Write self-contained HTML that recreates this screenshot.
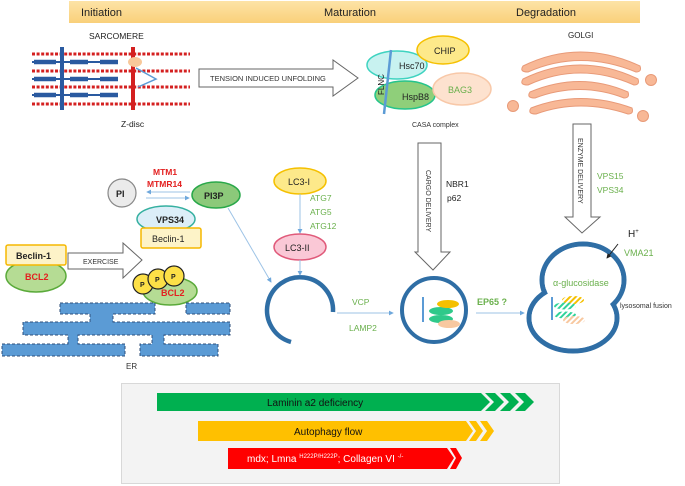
<!DOCTYPE html>
<html><head><meta charset="utf-8"><style>
html,body{margin:0;padding:0;background:#fff}
svg{display:block;font-family:"Liberation Sans",sans-serif}
</style></head><body>
<svg width="685" height="486" viewBox="0 0 685 486" xmlns="http://www.w3.org/2000/svg">
<defs>
<linearGradient id="hd" x1="0" y1="0" x2="0" y2="1"><stop offset="0" stop-color="#fde3a6"/><stop offset="1" stop-color="#f9d07a"/></linearGradient>
<marker id="ah" viewBox="0 0 6 6" refX="5" refY="3" markerWidth="5" markerHeight="5" orient="auto"><path d="M0,0 L6,3 L0,6z" fill="#6fa8dc"/></marker>
<marker id="ak" viewBox="0 0 6 6" refX="5" refY="3" markerWidth="5" markerHeight="5" orient="auto"><path d="M0,0 L6,3 L0,6z" fill="#222"/></marker>
<pattern id="hy" width="4" height="4" patternUnits="userSpaceOnUse" patternTransform="rotate(45)"><rect width="2" height="4" fill="#f5c000"/></pattern>
<pattern id="hg" width="4" height="4" patternUnits="userSpaceOnUse" patternTransform="rotate(45)"><rect width="2" height="4" fill="#2fd39a"/></pattern>
<pattern id="hp" width="4" height="4" patternUnits="userSpaceOnUse" patternTransform="rotate(45)"><rect width="2" height="4" fill="#f8c8a0"/></pattern>
</defs>
<rect x="69" y="1" width="571" height="22" fill="url(#hd)"/>
<text x="81" y="16" font-size="11" fill="#222">Initiation</text>
<text x="324" y="16" font-size="11" fill="#222">Maturation</text>
<text x="516" y="16" font-size="11" fill="#222">Degradation</text>

<text x="89" y="39" font-size="8.5" fill="#222">SARCOMERE</text>
<g stroke="#d42020" stroke-width="3" stroke-dasharray="3,1.6">
<line x1="32" y1="54" x2="190" y2="54"/><line x1="32" y1="71" x2="190" y2="71"/>
<line x1="32" y1="87" x2="190" y2="87"/><line x1="32" y1="104" x2="190" y2="104"/>
</g>
<g stroke="#2a5aa0" stroke-width="2">
<line x1="32" y1="62" x2="118" y2="62"/><line x1="32" y1="79" x2="118" y2="79"/><line x1="32" y1="95" x2="118" y2="95"/>
</g>
<g stroke="#2a5aa0" stroke-width="4.5">
<line x1="34" y1="62" x2="56" y2="62"/><line x1="70" y1="62" x2="88" y2="62"/><line x1="100" y1="62" x2="118" y2="62"/>
<line x1="34" y1="79" x2="56" y2="79"/><line x1="70" y1="79" x2="88" y2="79"/><line x1="100" y1="79" x2="118" y2="79"/>
<line x1="34" y1="95" x2="56" y2="95"/><line x1="70" y1="95" x2="88" y2="95"/><line x1="100" y1="95" x2="118" y2="95"/>
</g>
<line x1="62" y1="47" x2="62" y2="110" stroke="#2a5aa0" stroke-width="4"/>
<line x1="133" y1="47" x2="133" y2="110" stroke="#d42020" stroke-width="4"/>
<polyline points="136,68 156,79 138,87" fill="none" stroke="#5b9bd5" stroke-width="1.5"/>
<ellipse cx="135" cy="62" rx="7" ry="5" fill="#f8c89a"/>
<text x="121" y="127" font-size="8.5" fill="#222">Z-disc</text>
<path d="M199,69 H333 V60 L358,78 L333,96 V87 H199 Z" fill="#fff" stroke="#666" stroke-width="1"/>
<text x="210" y="81" font-size="7.5" fill="#333">TENSION  INDUCED UNFOLDING</text>

<ellipse cx="397" cy="65" rx="30" ry="14" fill="#c8f2f0" stroke="#3fd3c0" stroke-width="1.5"/>
<ellipse cx="443" cy="50" rx="26" ry="14" fill="#fde98a" stroke="#f5c000" stroke-width="1.5"/>
<ellipse cx="405" cy="95" rx="30" ry="14" fill="#8fcf7a" stroke="#25c48c" stroke-width="1.5"/>
<ellipse cx="462" cy="89" rx="29" ry="16" fill="#fde2cf" stroke="#f8c8a8" stroke-width="1.5"/>
<line x1="391" y1="50" x2="384" y2="114" stroke="#5b9bd5" stroke-width="2.5"/>
<text x="434" y="54" font-size="9" fill="#222">CHIP</text>
<text x="399" y="69" font-size="9" fill="#222">Hsc70</text>
<text x="402" y="100" font-size="9" fill="#222">HspB8</text>
<text x="448" y="93" font-size="9" fill="#6ab04c">BAG3</text>
<text transform="translate(384,95) rotate(-90)" font-size="8" fill="#222">FLNC</text>
<text x="412" y="127" font-size="7" fill="#333">CASA complex</text>

<text x="568" y="38" font-size="8" fill="#222">GOLGI</text>
<g fill="#f8b896" stroke="#e89a78" stroke-width="1">
<path d="M523,66 Q580,38 640,66 Q642,72 636,72 Q580,49 528,72 Q519,72 523,66Z"/>
<path d="M523,79 Q580,51 638,79 Q640,85 634,85 Q580,61 528,85 Q519,85 523,79Z"/>
<path d="M530,92 Q580,71 628,92 Q630,98 624,98 Q580,81 535,98 Q526,98 530,92Z"/>
<path d="M531,108 Q580,89 632,108 Q634,114 628,114 Q580,98 536,114 Q527,114 531,108Z"/>
<circle cx="651" cy="80" r="5.5"/><circle cx="513" cy="106" r="5.5"/><circle cx="643" cy="116" r="5.5"/>
</g>

<path d="M418,143 H441 V252 H450 L433,270 L415,252 H418 Z" fill="#fff" stroke="#666"/>
<text transform="translate(426,170) rotate(90)" font-size="7" fill="#333">CARGO DELIVERY</text>
<path d="M573,124 H591 V217 H600 L582,233 L565,217 H573 Z" fill="#fff" stroke="#666"/>
<text transform="translate(578,138) rotate(90)" font-size="7" fill="#333">ENZYME DELIVERY</text>
<text x="446" y="187" font-size="8.5" fill="#222">NBR1</text>
<text x="447" y="201" font-size="8.5" fill="#222">p62</text>
<text x="597" y="179" font-size="8.5" fill="#6ab04c">VPS15</text>
<text x="597" y="193" font-size="8.5" fill="#6ab04c">VPS34</text>

<g fill="#fff" stroke="#2f6ea5" stroke-width="5">
<ellipse cx="583" cy="280" rx="41" ry="36"/>
<ellipse cx="573" cy="318" rx="44" ry="33"/>
</g>
<g fill="#fff">
<ellipse cx="583" cy="280" rx="38.5" ry="33.5"/>
<ellipse cx="573" cy="318" rx="41.5" ry="30.5"/>
</g>
<text x="628" y="237" font-size="10" fill="#222">H<tspan font-size="6" dy="-4">+</tspan></text>
<text x="624" y="256" font-size="9" fill="#6ab04c">VMA21</text>
<line x1="618" y1="244" x2="607" y2="258" stroke="#222" stroke-width="1" marker-end="url(#ak)"/>
<text x="553" y="286" font-size="9" fill="#6ab04c">α-glucosidase</text>
<text x="620" y="308" font-size="7" fill="#333">lysosomal fusion</text>
<line x1="552" y1="297" x2="552" y2="320" stroke="#5b9bd5" stroke-width="2"/>
<ellipse cx="573" cy="300" rx="11" ry="4" fill="url(#hy)"/>
<ellipse cx="565" cy="306" rx="11" ry="3.5" fill="url(#hg)"/>
<ellipse cx="565" cy="315" rx="11" ry="3.5" fill="url(#hg)"/>
<ellipse cx="574" cy="320" rx="11" ry="4" fill="url(#hp)"/>

<circle cx="434" cy="310" r="32" fill="#fff" stroke="#2f6ea5" stroke-width="4"/>
<line x1="423" y1="297" x2="423" y2="322" stroke="#5b9bd5" stroke-width="2"/>
<ellipse cx="441" cy="311" rx="12" ry="4" fill="#2fc98a"/>
<ellipse cx="448" cy="304" rx="11" ry="4" fill="#f5c000"/>
<ellipse cx="441" cy="319" rx="12" ry="4" fill="#2fc98a"/>
<ellipse cx="449" cy="324" rx="11" ry="4" fill="#f8c8a0"/>

<path d="M333,312 A33 33 0 1 0 291,342" fill="none" stroke="#2f6ea5" stroke-width="4.5"/>
<text x="352" y="305" font-size="8.5" fill="#6ab04c">VCP</text>
<text x="349" y="331" font-size="8.5" fill="#6ab04c">LAMP2</text>
<line x1="337" y1="313" x2="393" y2="313" stroke="#9dc3e6" stroke-width="1" marker-end="url(#ah)"/>
<text x="477" y="305" font-size="9" font-weight="bold" fill="#6ab04c">EP65 ?</text>
<line x1="476" y1="313" x2="524" y2="313" stroke="#9dc3e6" stroke-width="1" marker-end="url(#ah)"/>

<ellipse cx="300" cy="181" rx="26" ry="13" fill="#fde98a" stroke="#f5c000" stroke-width="1.5"/>
<text x="288" y="185" font-size="9" fill="#222">LC3-I</text>
<line x1="300" y1="194" x2="300" y2="233" stroke="#9dc3e6" stroke-width="1" marker-end="url(#ah)"/>
<text x="310" y="201" font-size="8.5" fill="#6ab04c">ATG7</text>
<text x="310" y="215" font-size="8.5" fill="#6ab04c">ATG5</text>
<text x="310" y="229" font-size="8.5" fill="#6ab04c">ATG12</text>
<ellipse cx="300" cy="247" rx="26" ry="13" fill="#fac8d6" stroke="#e05a7a" stroke-width="1.5"/>
<text x="285" y="251" font-size="9" fill="#222">LC3-II</text>
<line x1="300" y1="260" x2="300" y2="275" stroke="#9dc3e6" stroke-width="1" marker-end="url(#ah)"/>
<line x1="228" y1="208" x2="271" y2="282" stroke="#9dc3e6" stroke-width="1" marker-end="url(#ah)"/>

<circle cx="122" cy="193" r="14" fill="#ebebeb" stroke="#888" stroke-width="1.2"/>
<text x="116" y="197" font-size="9" font-weight="bold" fill="#222">PI</text>
<text x="153" y="175" font-size="8.5" font-weight="bold" fill="#e32020">MTM1</text>
<text x="147" y="187" font-size="8.5" font-weight="bold" fill="#e32020">MTMR14</text>
<line x1="190" y1="192" x2="147" y2="192" stroke="#9dc3e6" stroke-width="1" marker-end="url(#ah)"/>
<line x1="146" y1="198" x2="189" y2="198" stroke="#9dc3e6" stroke-width="1" marker-end="url(#ah)"/>
<ellipse cx="216" cy="195" rx="24" ry="13" fill="#8cc97a" stroke="#2aa84a" stroke-width="1.5"/>
<text x="204" y="199" font-size="9" font-weight="bold" fill="#222">PI3P</text>
<ellipse cx="166" cy="219" rx="29" ry="13" fill="#dceef8" stroke="#35b0a0" stroke-width="1.5"/>
<text x="156" y="223" font-size="9" font-weight="bold" fill="#222">VPS34</text>
<rect x="141" y="228" width="60" height="20" rx="2" fill="#fdf3c8" stroke="#f5b800" stroke-width="1.5"/>
<text x="152" y="242" font-size="9" fill="#222">Beclin-1</text>

<text x="27" y="256" font-size="9" font-weight="bold" fill="#e32020">NAF</text>
<ellipse cx="36" cy="276" rx="30" ry="16" fill="#b5dc94" stroke="#5aaa3a" stroke-width="1.5"/>
<text x="25" y="280" font-size="9" font-weight="bold" fill="#e32020">BCL2</text>
<rect x="6" y="245" width="60" height="20" rx="2" fill="#fdf3c8" stroke="#f5b800" stroke-width="1.5"/>
<text x="16" y="259" font-size="9" font-weight="bold" fill="#222">Beclin-1</text>
<path d="M68,253 H123 V243 L142,260 L123,278 V269 H68 Z" fill="#fff" stroke="#666"/>
<text x="83" y="264" font-size="7" fill="#333">EXERCISE</text>
<ellipse cx="170" cy="291" rx="27" ry="14" fill="#b5dc94" stroke="#5aaa3a" stroke-width="1.5"/>
<text x="161" y="296" font-size="9" font-weight="bold" fill="#e32020">BCL2</text>
<g fill="#fde047" stroke="#222" stroke-width="1.2">
<circle cx="143" cy="284" r="10"/><circle cx="158" cy="279" r="10"/><circle cx="174" cy="276" r="10"/>
</g>
<g font-size="7" font-weight="bold" fill="#222"><text x="140" y="287">P</text><text x="155" y="282">P</text><text x="171" y="279">P</text></g>

<g fill="#5b9bd5" stroke="#2f4f7a" stroke-width="1" stroke-dasharray="3,2">
<path d="M60,303 H155 V314 H113 V322 H230 V335 H164 V344 H218 V356 H140 V344 H152 V335 H78 V344 H125 V356 H2 V344 H68 V335 H23 V322 H90 V314 H60 Z"/>
<rect x="186" y="303" width="44" height="11"/>
</g>
<text x="126" y="369" font-size="8" fill="#333">ER</text>

<rect x="121.5" y="383.5" width="438" height="100" fill="#f3f3f3" stroke="#d8d8d8"/>
<path d="M157,393 H481 L490,402 L481,411 H157Z" fill="#00b050"/>
<path d="M485,393 H495 L504,402 L495,411 H485 L494,402Z" fill="#00b050"/>
<path d="M500,393 H510 L519,402 L510,411 H500 L509,402Z" fill="#00b050"/>
<path d="M515,393 H525 L534,402 L525,411 H515 L524,402Z" fill="#00b050"/>
<text x="267" y="406" font-size="10" fill="#111">Laminin a2 deficiency</text>
<path d="M198,421 H466 L473,431 L466,441 H198Z" fill="#ffc000"/>
<path d="M469,421 H476 L483,431 L476,441 H469 L476,431Z" fill="#ffc000"/>
<path d="M480,421 H487 L494,431 L487,441 H480 L487,431Z" fill="#ffc000"/>
<text x="294" y="435" font-size="10" fill="#111">Autophagy flow</text>
<path d="M228,448 H447 L454,458 L447,469 H228Z" fill="#ff0000"/>
<path d="M450,448 H456 L462,458 L456,469 H450 L456,458Z" fill="#ff0000"/>
<text x="247" y="462" font-size="10" fill="#fff">mdx; Lmna <tspan font-size="6" dy="-4">H222P/H222P</tspan><tspan dy="4">; Collagen VI </tspan><tspan font-size="6" dy="-4">-/-</tspan></text>
</svg>
</body></html>
